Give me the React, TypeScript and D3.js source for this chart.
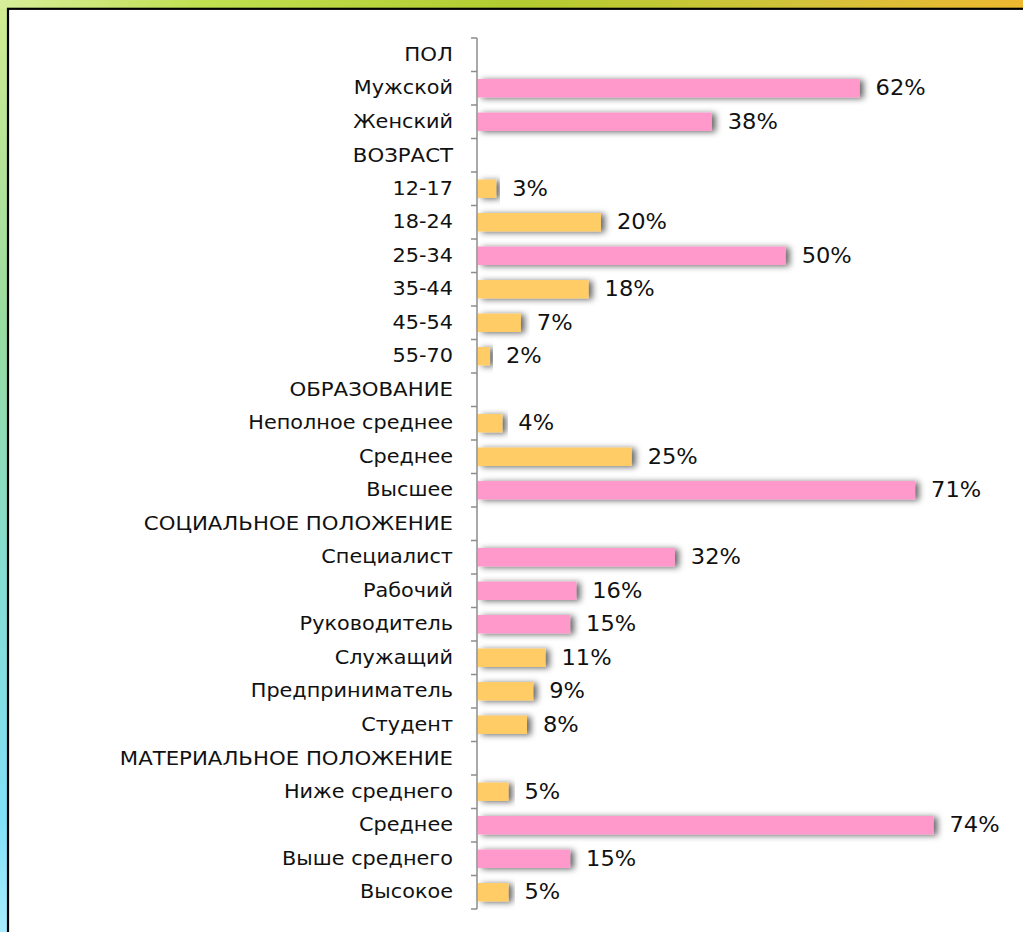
import React from "react";
import * as d3 from "d3";

const categories = [
  "ПОЛ", "Мужской", "Женский",
  "ВОЗРАСТ", "12-17", "18-24", "25-34", "35-44", "45-54", "55-70",
  "ОБРАЗОВАНИЕ", "Неполное среднее", "Среднее", "Высшее",
  "СОЦИАЛЬНОЕ ПОЛОЖЕНИЕ", "Специалист", "Рабочий", "Руководитель", "Служащий", "Предприниматель", "Студент",
  "МАТЕРИАЛЬНОЕ ПОЛОЖЕНИЕ", "Ниже среднего", "Среднее ", "Выше среднего", "Высокое",
];
const values: (number | null)[] = [
  null, 62, 38,
  null, 3, 20, 50, 18, 7, 2,
  null, 4, 25, 71,
  null, 32, 16, 15, 11, 9, 8,
  null, 5, 74, 15, 5,
];
const highlighted: boolean[] = [
  false, true, true,
  false, false, false, true, false, false, false,
  false, false, false, true,
  false, true, true, true, false, false, false,
  false, false, true, true, false,
];

const W = 1023;
const H = 932;
const FONT = "'DejaVu Sans', Verdana, sans-serif";

export default function App() {
  const y = d3.scaleBand<number>().domain(d3.range(categories.length)).range([38, 909]).paddingInner(0.45).paddingOuter(0.225);
  const yb = d3.scaleBand<number>().domain(d3.range(categories.length)).range([38, 909]);
  const x = d3.scaleLinear().domain([0, 80]).range([477.7, 477.7 + 80 * 6.16]);
  const pink = "#FF99CC";
  const yellow = "#FFCC66";
  const cy = (i: number) => (yb(i) as number) + yb.bandwidth() / 2;
  const isCaps = (s: string) => s === s.toUpperCase() && /[А-Я]/.test(s);
  return (
    <svg width={W} height={H} style={{ position: "absolute", left: 0, top: 0, display: "block" }}>
      <defs>
        <linearGradient id="topg" x1="0" x2="1" y1="0" y2="0">
          <stop offset="0" stopColor="#d6ee9a" />
          <stop offset="0.2" stopColor="#c0e050" />
          <stop offset="0.5" stopColor="#b2cc30" />
          <stop offset="0.8" stopColor="#d4c23a" />
          <stop offset="1" stopColor="#eeb830" />
        </linearGradient>
        <linearGradient id="leftg" x1="0" x2="0" y1="0" y2="1">
          <stop offset="0" stopColor="#d2ec92" />
          <stop offset="0.35" stopColor="#98dca0" />
          <stop offset="0.6" stopColor="#86dcd0" />
          <stop offset="0.88" stopColor="#80e0f8" />
          <stop offset="1" stopColor="#a8ecff" />
        </linearGradient>
        <filter id="shadow" x="-20%" y="-80%" width="140%" height="260%">
          <feDropShadow dx="4" dy="1" stdDeviation="3" floodColor="#000" floodOpacity="0.6" />
        </filter>
      </defs>
      <rect x={0} y={0} width={W} height={H} fill="url(#leftg)" />
      <rect x={0} y={0} width={W} height={9} fill="url(#topg)" />
      <rect x={8} y={8.8} width={W} height={H} fill="#fff" stroke="#000" strokeWidth={2.2} />
      <g fontFamily={FONT} fontSize={19} fill="#111">
        {categories.map((c, i) => (
          <text
            key={"c" + i}
            transform={`translate(453,${cy(i)}) scale(${isCaps(c) ? 1.12 : 1.095},1)`}
            textAnchor="end"
            dominantBaseline="central"
          >
            {c.trim()}
          </text>
        ))}
      </g>
      <g>
        {values.map((v, i) =>
          v == null ? null : (
            <rect
              key={"b" + i}
              x={x(0)}
              y={y(i)}
              width={x(v) - x(0)}
              height={y.bandwidth()}
              fill={highlighted[i] ? pink : yellow}
              filter="url(#shadow)"
            />
          )
        )}
      </g>
      <g stroke="#8c8c8c" strokeWidth={1.5}>
        <line x1={477} x2={477} y1={38} y2={909} />
        {d3.range(categories.length + 1).map((i) => {
          const yy = 38 + i * yb.step();
          return <line key={"t" + i} x1={471} x2={477} y1={yy} y2={yy} />;
        })}
      </g>
      <g fontFamily={FONT} fontSize={20.5} fill="#111">
        {values.map((v, i) =>
          v == null ? null : (
            <text key={"l" + i} transform={`translate(${x(v) + 16},${cy(i)}) scale(1.1,1)`} dominantBaseline="central">
              {v + "%"}
            </text>
          )
        )}
      </g>
    </svg>
  );
}
